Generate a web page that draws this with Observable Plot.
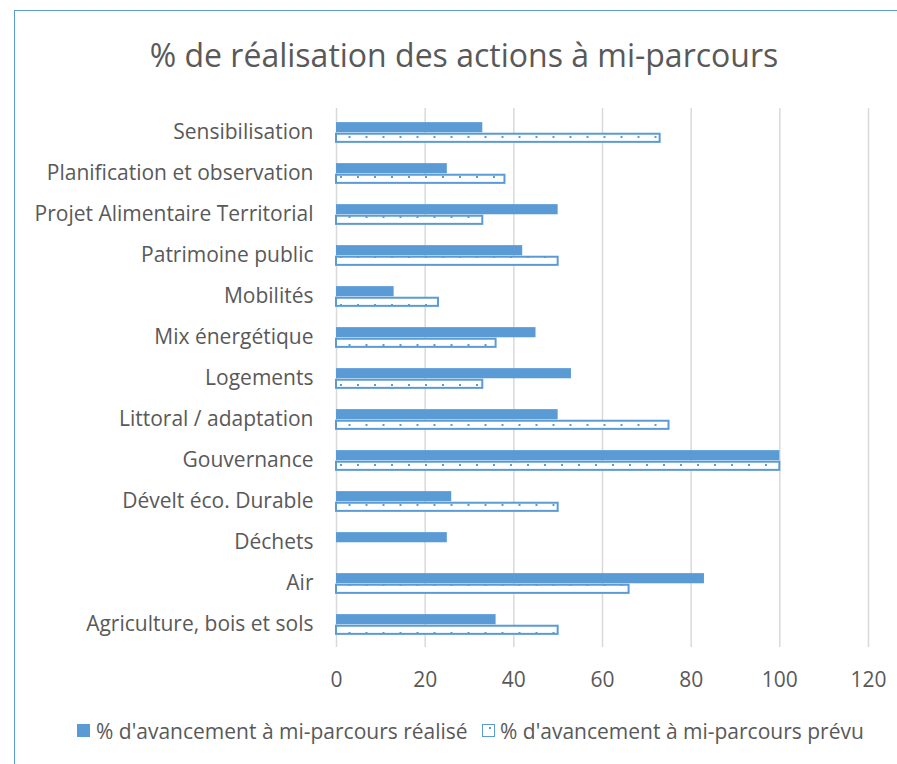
<!DOCTYPE html>
<html>
<head>
<meta charset="utf-8">
<script src="https://cdn.jsdelivr.net/npm/d3@7"></script>
<script src="https://cdn.jsdelivr.net/npm/@observablehq/plot@0.6"></script>
<style>
  html, body { margin: 0; padding: 0; background: #fff; }
  #page { position: relative; width: 897px; height: 764px; overflow: hidden; font-family: "Open Sans", Lato, sans-serif; color: #595959; }
  #border { position: absolute; left: 14px; top: 10px; width: 900px; height: 800px; border-left: 1.5px solid #5b9bd5; border-top: 1.5px solid #5b9bd5; box-sizing: border-box; }
  #title { position: absolute; left: 0; width: 928px; top: 35px; text-align: center; font-size: 32px; line-height: 40px; white-space: nowrap; }
  #chart { position: absolute; left: 0; top: 0; }
  .leg { position: absolute; top: 719px; font-size: 21px; line-height: 24px; white-space: nowrap; }
  .sw { position: absolute; top: 724px; width: 13px; height: 13px; box-sizing: border-box; }
</style>
</head>
<body>
<div id="page">
  <div id="border"></div>
  <div id="chart"></div>
  <div id="title">% de réalisation des actions à mi-parcours</div>
  <div class="sw" style="left:77px;background:#5b9bd5"></div>
  <div class="leg" style="left:96px">% d'avancement à mi-parcours réalisé</div>
  <div class="sw" style="left:482px;background:#fff;border:1.5px solid #5b9bd5"><div style="position:absolute;left:6px;top:2px;width:2px;height:2px;background:#5b9bd5"></div></div>
  <div class="leg" style="left:500px">% d'avancement à mi-parcours prévu</div>
</div>
<script>
const categories = ["Sensibilisation","Planification et observation","Projet Alimentaire Territorial","Patrimoine public","Mobilités","Mix énergétique","Logements","Littoral / adaptation","Gouvernance","Dévelt éco. Durable","Déchets","Air","Agriculture, bois et sols"];
const realise = [33,25,50,42,13,45,53,50,100,26,25,83,36];
const prevu = [73,38,33,50,23,36,33,75,100,50,0,66,50];
const xTicks = [0,20,40,60,80,100,120];

const realData = categories.map((c,i)=>({cat:c, value:realise[i]})).filter(d=>d.value>0);
const prevData = categories.map((c,i)=>({cat:c, value:prevu[i]})).filter(d=>d.value>0);

const W = 897, H = 764;
const pTop = 108, pBottom = 647, pLeft = 336, pRight = 868;
const band = (pBottom - pTop) / categories.length;
const barH = 10.6;
const blue = "#5b9bd5";

const svg = Plot.plot({
  width: W, height: H,
  marginTop: pTop, marginBottom: H - pBottom, marginLeft: pLeft, marginRight: W - pRight,
  style: { fontFamily: "'Open Sans', Lato, sans-serif", fontSize: "21px", color: "#595959", background: "transparent" },
  x: { domain: [0,120] },
  y: { domain: categories, padding: 0 },
  marks: [
    Plot.gridX(xTicks, { stroke: "#d9d9d9", strokeOpacity: 1, strokeWidth: 1.5 }),
    Plot.barX(realData, { x: "value", y: "cat", fill: blue, insetTop: band/2 - barH + 1, insetBottom: band/2 - 1 }),
    Plot.barX(prevData, { x: "value", y: "cat", fill: "url(#dots)", stroke: blue, strokeWidth: 2, insetTop: band/2 + 2, insetBottom: band/2 - barH }),
    Plot.axisX(xTicks, { tickSize: 0, tickPadding: 25, label: null, fontSize: 21, fill: "#595959" }),
    Plot.axisY({ tickSize: 0, tickPadding: 23, label: null, fontSize: 21, fill: "#595959" })
  ]
});

const defs = d3.select(svg).insert("defs", ":first-child");
const pat = defs.append("pattern").attr("id","dots").attr("patternUnits","userSpaceOnUse").attr("width",17).attr("height",16);
pat.append("rect").attr("width",17).attr("height",16).attr("fill","#fff");
pat.append("rect").attr("x",0).attr("y",0).attr("width",2).attr("height",2).attr("fill",blue);
pat.append("rect").attr("x",8.5).attr("y",8).attr("width",2).attr("height",2).attr("fill",blue);

document.getElementById("chart").appendChild(svg);
</script>
</body>
</html>
